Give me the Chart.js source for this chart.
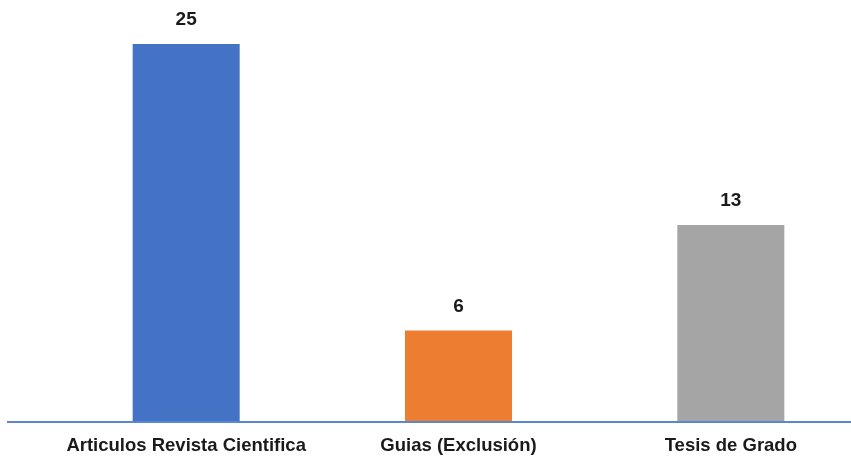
<!DOCTYPE html>
<html>
<head>
<meta charset="utf-8">
<script src="https://cdn.jsdelivr.net/npm/chart.js@4/dist/chart.umd.min.js"></script>
<style>
html,body{margin:0;padding:0;background:#fff;overflow:hidden;width:851px;height:456px;}
#wrap{width:867px;height:456px;}
</style>
</head>
<body>
<div id="wrap"><canvas id="c" width="867" height="456"></canvas></div>
<script>
const categories = ["Articulos Revista Cientifica", "Guias (Exclusión)", "Tesis de Grado"];
const values = [25, 6, 13];
const barColors = ["#4472C4", "#ED7D31", "#A5A5A5"];

const baseline = {
  id: 'baseline',
  afterDatasetsDraw(chart) {
    const ctx = chart.ctx;
    const y = chart.scales.y.getPixelForValue(0);
    ctx.save();
    ctx.strokeStyle = '#5B87D0';
    ctx.lineWidth = 2;
    ctx.beginPath();
    ctx.moveTo(7, y + 1);
    ctx.lineTo(chart.width, y + 1);
    ctx.stroke();
    ctx.restore();
  }
};

const valueLabels = {
  id: 'valueLabels',
  afterDatasetsDraw(chart) {
    const ctx = chart.ctx;
    const meta = chart.getDatasetMeta(0);
    ctx.save();
    ctx.font = 'bold 19px "Liberation Sans", Arial, sans-serif';
    ctx.fillStyle = '#1a1a1a';
    ctx.textAlign = 'center';
    ctx.textBaseline = 'middle';
    meta.data.forEach((bar, i) => {
      ctx.fillText(String(values[i]), bar.x, bar.y - 24);
    });
    ctx.restore();
  }
};

new Chart(document.getElementById('c'), {
  type: 'bar',
  data: {
    labels: categories,
    datasets: [{
      data: values,
      backgroundColor: barColors,
      borderWidth: 0,
      barPercentage: 0.393,
      categoryPercentage: 1
    }]
  },
  options: {
    responsive: false,
    animation: false,
    layout: { padding: { left: 50, right: 0, top: 44, bottom: 0 } },
    plugins: { legend: { display: false }, tooltip: { enabled: false } },
    scales: {
      y: { display: false, min: 0, max: 25 },
      x: {
        grid: { display: false, drawTicks: false },
        border: { display: false },
        ticks: {
          color: '#1a1a1a',
          font: { family: '"Liberation Sans", Arial, sans-serif', size: 18.5, weight: 'bold' },
          padding: 14,
          maxRotation: 0,
          autoSkip: false
        },
        afterFit(scale) { scale.height = 35; }
      }
    }
  },
  plugins: [baseline, valueLabels]
});
</script>
</body>
</html>
